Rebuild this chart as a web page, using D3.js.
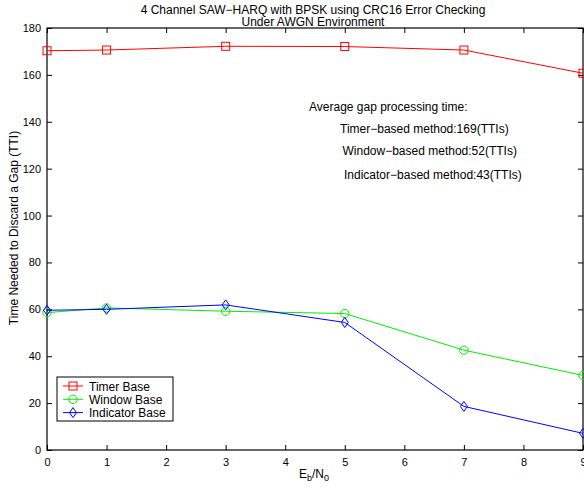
<!DOCTYPE html>
<html>
<head>
<meta charset="utf-8">
<script src="https://cdn.jsdelivr.net/npm/d3@7"></script>
<style>
  body { margin: 0; background: #fff; }
  svg text { font-family: "Liberation Sans", Arial, sans-serif; fill: #000; }
</style>
</head>
<body>
<div id="chart"></div>
<script>
// Eb/N0 points and gap discard times (TTI) for each scheme
const ebn0 = [0, 1, 3, 5, 7, 9];
const timerBase = [170.3, 170.6, 172.2, 172.1, 170.6, 160.7];
const windowBase = [58.6, 60.6, 59.2, 58.2, 42.6, 31.8];
const indicatorBase = [59.6, 60.0, 61.9, 54.4, 18.6, 7.1];
const xTicks = [0, 1, 2, 3, 4, 5, 6, 7, 8, 9];
const yTicks = [0, 20, 40, 60, 80, 100, 120, 140, 160, 180];
const seriesNames = ["Timer Base", "Window Base", "Indicator Base"];
const notes = [
  "Average gap processing time:",
  "Timer\u2212based method:169(TTIs)",
  "Window\u2212based method:52(TTIs)",
  "Indicator\u2212based method:43(TTIs)"
];

const W = 584, H = 488;
const margin = { top: 28, right: 1, bottom: 38, left: 47 };
const width = W - margin.left - margin.right;
const height = H - margin.top - margin.bottom;

const svg = d3.select("#chart").append("svg")
  .attr("width", W).attr("height", H);

const g = svg.append("g")
  .attr("transform", `translate(${margin.left},${margin.top})`);

const x = d3.scaleLinear().domain([0, 9]).range([0, width]);
const y = d3.scaleLinear().domain([0, 180]).range([height, 0]);

// axes with inward ticks on all four sides
const tickLen = 5;
g.append("g").attr("transform", `translate(0,${height})`)
  .call(d3.axisBottom(x).tickValues(xTicks).tickSizeInner(-tickLen).tickSizeOuter(0).tickPadding(8))
  .call(a => a.select(".domain").remove());
g.append("g")
  .call(d3.axisTop(x).tickValues(xTicks).tickSizeInner(-tickLen).tickSizeOuter(0).tickFormat(""))
  .call(a => a.select(".domain").remove());
g.append("g")
  .call(d3.axisLeft(y).tickValues(yTicks).tickSizeInner(-tickLen).tickSizeOuter(0).tickPadding(6))
  .call(a => a.select(".domain").remove());
g.append("g").attr("transform", `translate(${width},0)`)
  .call(d3.axisRight(y).tickValues(yTicks).tickSizeInner(-tickLen).tickSizeOuter(0).tickFormat(""))
  .call(a => a.select(".domain").remove());

g.selectAll(".tick text").style("font-size", "11px");
g.selectAll(".tick line").attr("stroke", "#000");

g.append("rect")
  .attr("x", 0).attr("y", 0).attr("width", width).attr("height", height)
  .attr("fill", "none").attr("stroke", "#000").attr("stroke-width", 1.2);

const series = [
  { name: seriesNames[0], values: timerBase, color: "#ff0000", marker: "square" },
  { name: seriesNames[1], values: windowBase, color: "#00ee00", marker: "circle" },
  { name: seriesNames[2], values: indicatorBase, color: "#0000ff", marker: "diamond" }
];

const line = d3.line().x(d => x(d[0])).y(d => y(d[1]));

function drawMarker(sel, type, color) {
  if (type === "square") {
    sel.append("rect").attr("x", -4).attr("y", -4).attr("width", 8).attr("height", 8)
      .attr("fill", "none").attr("stroke", color);
  } else if (type === "circle") {
    sel.append("circle").attr("r", 4.2).attr("fill", "none").attr("stroke", color);
  } else {
    sel.append("path").attr("d", "M0,-5L3.5,0L0,5L-3.5,0Z")
      .attr("fill", "none").attr("stroke", color);
  }
}

series.forEach(s => {
  const pts = ebn0.map((e, i) => [e, s.values[i]]);
  g.append("path").datum(pts)
    .attr("d", line).attr("fill", "none")
    .attr("stroke", s.color).attr("stroke-width", 1);
  pts.forEach(p => {
    const m = g.append("g").attr("transform", `translate(${x(p[0])},${y(p[1])})`);
    drawMarker(m, s.marker, s.color);
  });
});

// title
svg.append("text").attr("x", 313).attr("y", 13.5).attr("text-anchor", "middle")
  .style("font-size", "12px").text("4 Channel SAW\u2212HARQ with BPSK using CRC16 Error Checking");
svg.append("text").attr("x", 313).attr("y", 26).attr("text-anchor", "middle")
  .style("font-size", "12px").text("Under AWGN Environment");

// axis labels
svg.append("text")
  .attr("transform", "translate(18,228) rotate(-90)")
  .attr("text-anchor", "middle").style("font-size", "12px")
  .text("Time Needed to Discard a Gap (TTI)");

const xl = svg.append("text").attr("x", 314).attr("y", 478)
  .attr("text-anchor", "middle").style("font-size", "12px");
xl.append("tspan").text("E");
xl.append("tspan").attr("dy", 3).style("font-size", "9px").text("b");
xl.append("tspan").attr("dy", -3).text("/N");
xl.append("tspan").attr("dy", 3).style("font-size", "9px").text("0");

// annotation block
const notePos = [[309, 111], [340, 133], [342.5, 155], [344, 179]];
notes.forEach((t, i) => {
  svg.append("text").attr("x", notePos[i][0]).attr("y", notePos[i][1])
    .style("font-size", "12px").text(t);
});

// legend
const lg = svg.append("g").attr("transform", "translate(57,377)");
lg.append("rect").attr("width", 116).attr("height", 44)
  .attr("fill", "#fff").attr("stroke", "#000").attr("stroke-width", 1);
series.forEach((s, i) => {
  const row = lg.append("g").attr("transform", `translate(0,${9 + i * 13.3})`);
  row.append("line").attr("x1", 6).attr("x2", 26).attr("stroke", s.color);
  const m = row.append("g").attr("transform", "translate(16,0)");
  drawMarker(m, s.marker, s.color);
  row.append("text").attr("x", 32).attr("y", 4.5).style("font-size", "12px").text(s.name);
});
</script>
</body>
</html>
